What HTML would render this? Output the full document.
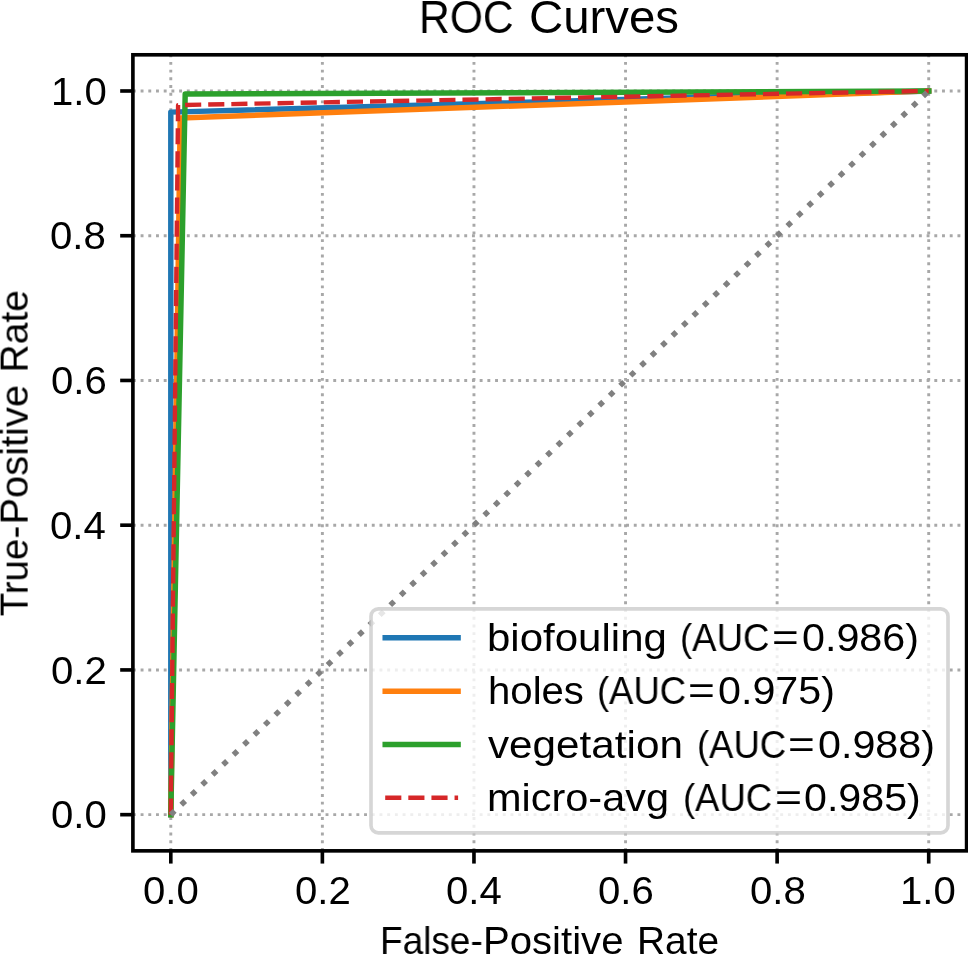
<!DOCTYPE html>
<html><head><meta charset="utf-8"><title>ROC Curves</title>
<style>
html,body{margin:0;padding:0;background:#fff;width:968px;height:954px;overflow:hidden}
#chart{position:relative;width:968px;height:954px;overflow:hidden;background:#fff;font-family:"Liberation Sans",sans-serif;color:#000}
.t{position:absolute;white-space:nowrap;transform-origin:0 0;margin:0;padding:0;will-change:transform}
</style></head><body>
<div id="chart">
<svg width="968" height="954" viewBox="0 0 968 954" style="position:absolute;left:0;top:0">
<rect x="0" y="0" width="968" height="954" fill="#ffffff"/>
<g stroke="#a8a8a8" stroke-width="2.908" stroke-dasharray="2.908 4.798" fill="none">
<path d="M170.795 850.85 V54.8"/>
<path d="M322.377 850.85 V54.8"/>
<path d="M473.959 850.85 V54.8"/>
<path d="M625.541 850.85 V54.8"/>
<path d="M777.123 850.85 V54.8"/>
<path d="M928.705 850.85 V54.8"/>
<path d="M132.9 814.666 H966.6"/>
<path d="M132.9 669.93 H966.6"/>
<path d="M132.9 525.193 H966.6"/>
<path d="M132.9 380.457 H966.6"/>
<path d="M132.9 235.72 H966.6"/>
<path d="M132.9 90.984 H966.6"/>
</g>
<path d="M170.795 814.666 L170.795 112.116 L928.705 90.984" fill="none" stroke="#1f77b4" stroke-width="5.452" stroke-linejoin="round" stroke-linecap="square"/>
<path d="M170.795 814.666 L180.194 117.977 L928.705 90.984" fill="none" stroke="#ff7f0e" stroke-width="5.452" stroke-linejoin="round" stroke-linecap="square"/>
<path d="M170.795 814.666 L185.196 94.024 L928.705 90.984" fill="none" stroke="#2ca02c" stroke-width="5.452" stroke-linejoin="round" stroke-linecap="square"/>
<path d="M170.795 814.666 L178.071 105.096 L928.705 90.984" fill="none" stroke="#d62728" stroke-width="4.362" stroke-linejoin="round" stroke-dasharray="16.138 6.979"/>
<path d="M170.795 814.666 L928.705 90.984" fill="none" stroke="#808080" stroke-width="5.452" stroke-linejoin="round" stroke-dasharray="5.452 8.996"/>
<rect x="132.9" y="54.8" width="833.7" height="796.05" fill="none" stroke="#000" stroke-width="3.635"/>
<g stroke="#000" stroke-width="3.635">
<path d="M170.795 850.85 v12.722"/>
<path d="M132.9 814.666 h-12.722"/>
<path d="M322.377 850.85 v12.722"/>
<path d="M132.9 669.93 h-12.722"/>
<path d="M473.959 850.85 v12.722"/>
<path d="M132.9 525.193 h-12.722"/>
<path d="M625.541 850.85 v12.722"/>
<path d="M132.9 380.457 h-12.722"/>
<path d="M777.123 850.85 v12.722"/>
<path d="M132.9 235.72 h-12.722"/>
<path d="M928.705 850.85 v12.722"/>
<path d="M132.9 90.984 h-12.722"/>
</g>
<rect x="371" y="608.9" width="577" height="223.9" rx="7.3" ry="7.3" fill="#ffffff" fill-opacity="0.8" stroke="#cccccc" stroke-opacity="0.8" stroke-width="3.65"/>
<path d="M385.2 637.85 H458.1" stroke="#1f77b4" stroke-width="5.452" stroke-linecap="square"/>
<path d="M385.2 691.3 H458.1" stroke="#ff7f0e" stroke-width="5.452" stroke-linecap="square"/>
<path d="M385.2 744.6 H458.1" stroke="#2ca02c" stroke-width="5.452" stroke-linecap="square"/>
<path d="M385.2 797.8 H458.1" stroke="#d62728" stroke-width="4.362" stroke-dasharray="16.138 6.979"/>
</svg>
<div class="t" id="title_0" style="left:419px;top:-5px;font-size:45.9px;line-height:45.9px;transform:scaleX(0.9283)">ROC</div>
<div class="t" id="title_1" style="left:529px;top:-5px;font-size:45.9px;line-height:45.9px;transform:scaleX(1.0321)">Curves</div>
<div class="t" id="lg0_0" style="left:487px;top:620px;font-size:37.9px;line-height:37.9px;transform:scaleX(1.1088)">biofouling</div>
<div class="t" id="lg1_0" style="left:488px;top:673px;font-size:37.9px;line-height:37.9px;transform:scaleX(1.0590)">holes</div>
<div class="t" id="lg2_0" style="left:488px;top:727px;font-size:37.9px;line-height:37.9px;transform:scaleX(1.1149)">vegetation</div>
<div class="t" id="lg3_0" style="left:487px;top:780px;font-size:37.9px;line-height:37.9px;transform:scaleX(1.0943)">micro-avg</div>
<div class="t" id="yt0" style="left:51px;top:795px;font-size:39.6px;line-height:39.6px;transform:scaleX(1.0140)">0.0</div>
<div class="t" id="xt0" style="left:143px;top:871px;font-size:39.6px;line-height:39.6px;transform:scaleX(1.0140)">0.0</div>
<div class="t" id="yt1" style="left:51px;top:651px;font-size:39.6px;line-height:39.6px;transform:scaleX(1.0140)">0.2</div>
<div class="t" id="xt1" style="left:295px;top:871px;font-size:39.6px;line-height:39.6px;transform:scaleX(1.0140)">0.2</div>
<div class="t" id="yt2" style="left:50px;top:506px;font-size:39.6px;line-height:39.6px;transform:scaleX(1.0140)">0.4</div>
<div class="t" id="xt2" style="left:446px;top:871px;font-size:39.6px;line-height:39.6px;transform:scaleX(1.0140)">0.4</div>
<div class="t" id="yt3" style="left:51px;top:361px;font-size:39.6px;line-height:39.6px;transform:scaleX(1.0140)">0.6</div>
<div class="t" id="xt3" style="left:598px;top:871px;font-size:39.6px;line-height:39.6px;transform:scaleX(1.0140)">0.6</div>
<div class="t" id="yt4" style="left:50px;top:216px;font-size:39.6px;line-height:39.6px;transform:scaleX(1.0140)">0.8</div>
<div class="t" id="xt4" style="left:750px;top:871px;font-size:39.6px;line-height:39.6px;transform:scaleX(1.0140)">0.8</div>
<div class="t" id="yt5" style="left:51px;top:72px;font-size:39.6px;line-height:39.6px;transform:scaleX(1.0140)">1.0</div>
<div class="t" id="xt5" style="left:900px;top:871px;font-size:39.6px;line-height:39.6px;transform:scaleX(1.0140)">1.0</div>
<div class="t" id="xl_0" style="left:380px;top:922px;font-size:38.3px;line-height:38.3px;transform:scaleX(0.9653)">False-</div>
<div class="t" id="xl_1" style="left:483px;top:922px;font-size:38.3px;line-height:38.3px;transform:scaleX(1.0474)">Positive</div>
<div class="t" id="xl_2" style="left:637px;top:922px;font-size:38.3px;line-height:38.3px;transform:scaleX(1.0145)">Rate</div>
<div class="t" id="yl_0" style="left:0;top:0;font-size:38.3px;line-height:38.3px;transform:translate(28px,616.302px) rotate(-90deg) scaleX(1.0042) translate(0,-32.363px)">True-</div>
<div class="t" id="yl_1" style="left:0;top:0;font-size:38.3px;line-height:38.3px;transform:translate(28px,524.545px) rotate(-90deg) scaleX(1.0406) translate(0,-32.363px)">Positive</div>
<div class="t" id="yl_2" style="left:0;top:0;font-size:38.3px;line-height:38.3px;transform:translate(28px,372.525px) rotate(-90deg) scaleX(1.0197) translate(0,-32.363px)">Rate</div>
<div class="t" id="lg0_a" style="left:680px;top:620px;font-size:37.9px;line-height:37.9px;transform:scaleX(0.9651)">(AUC</div>
<div class="t" id="lg0_b" style="left:772px;top:620px;font-size:37.9px;line-height:37.9px;transform:scaleX(1.2070)">=</div>
<div class="t" id="lg0_c" style="left:802px;top:620px;font-size:37.9px;line-height:37.9px;transform:scaleX(1.0890)">0.986)</div>
<div class="t" id="lg1_a" style="left:597px;top:673px;font-size:37.9px;line-height:37.9px;transform:scaleX(0.9612)">(AUC</div>
<div class="t" id="lg1_b" style="left:688px;top:673px;font-size:37.9px;line-height:37.9px;transform:scaleX(1.2135)">=</div>
<div class="t" id="lg1_c" style="left:718px;top:673px;font-size:37.9px;line-height:37.9px;transform:scaleX(1.0891)">0.975)</div>
<div class="t" id="lg2_a" style="left:697px;top:727px;font-size:37.9px;line-height:37.9px;transform:scaleX(0.9622)">(AUC</div>
<div class="t" id="lg2_b" style="left:788px;top:727px;font-size:37.9px;line-height:37.9px;transform:scaleX(1.2102)">=</div>
<div class="t" id="lg2_c" style="left:818px;top:727px;font-size:37.9px;line-height:37.9px;transform:scaleX(1.0891)">0.988)</div>
<div class="t" id="lg3_a" style="left:683px;top:780px;font-size:37.9px;line-height:37.9px;transform:scaleX(0.9619)">(AUC</div>
<div class="t" id="lg3_b" style="left:775px;top:780px;font-size:37.9px;line-height:37.9px;transform:scaleX(1.2215)">=</div>
<div class="t" id="lg3_c" style="left:804px;top:780px;font-size:37.9px;line-height:37.9px;transform:scaleX(1.0872)">0.985)</div>
</div>
</body></html>
